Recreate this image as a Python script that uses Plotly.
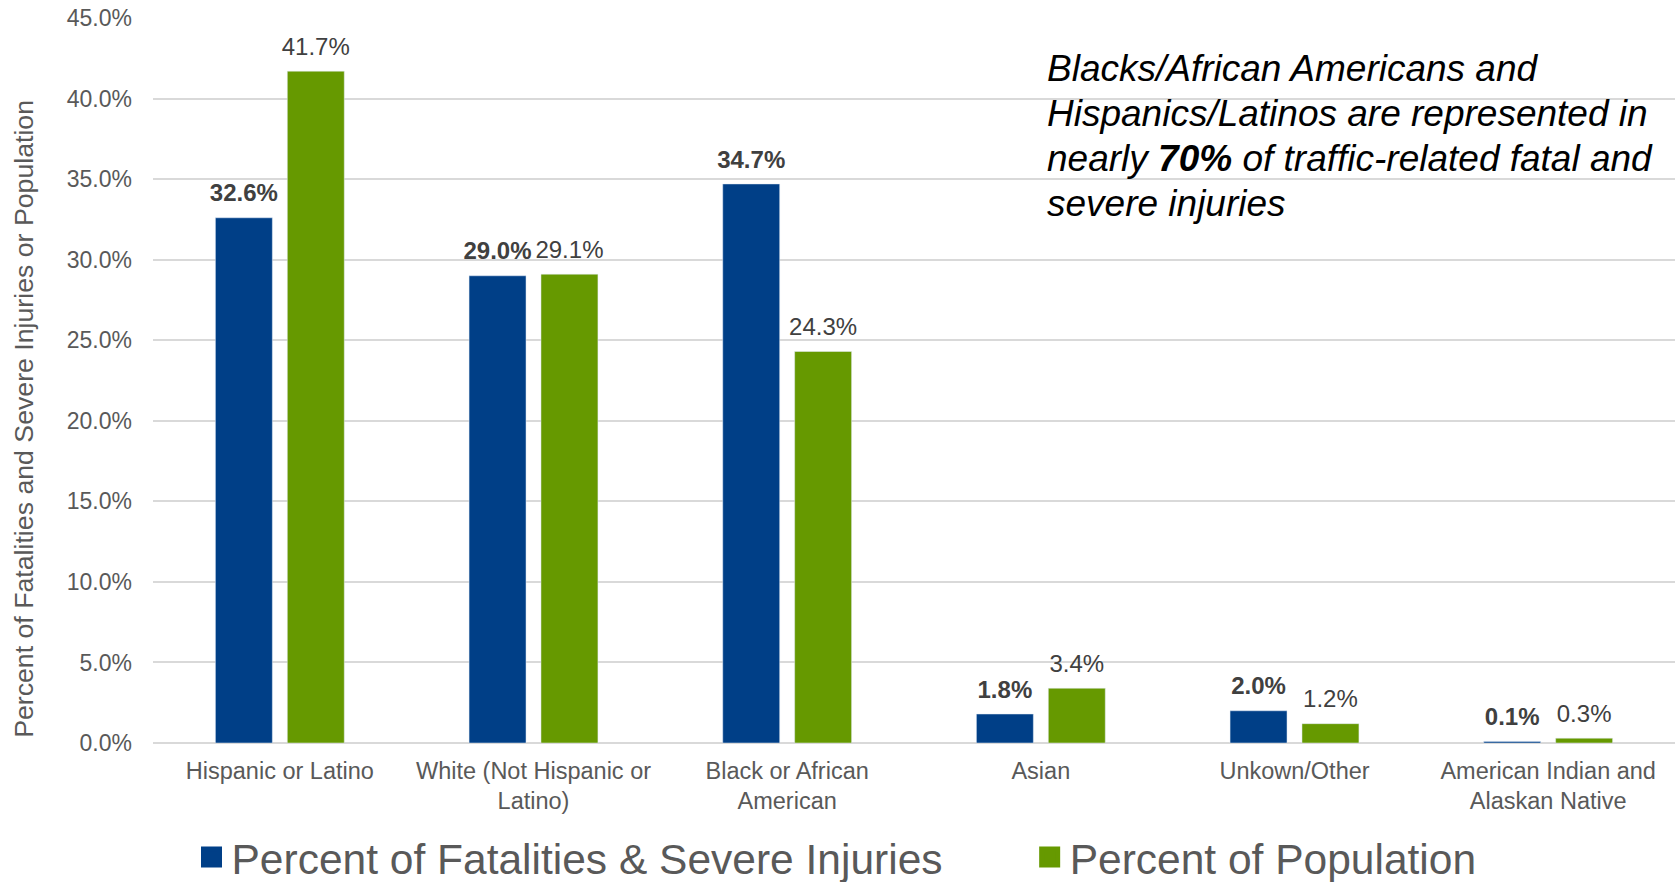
import plotly.graph_objects as go

categories = [
    "Hispanic or Latino",
    "White (Not Hispanic or<br>Latino)",
    "Black or African<br>American",
    "Asian",
    "Unkown/Other",
    "American Indian and<br>Alaskan Native",
]
fatal_injury_pct = [32.6, 29.0, 34.7, 1.8, 2.0, 0.1]
population_pct = [41.7, 29.1, 24.3, 3.4, 1.2, 0.3]
y_ticks = [0, 5, 10, 15, 20, 25, 30, 35, 40, 45]
series_names = ["Percent of Fatalities & Severe Injuries", "Percent of Population"]
note_lines = [
    "Blacks/African Americans and",
    "Hispanics/Latinos are represented in",
    "nearly <b>70%</b> of traffic-related fatal and",
    "severe injuries",
]

BLUE = "#003F87"
GREEN = "#669900"
FONT = "Arial, Liberation Sans, sans-serif"
BARGAP = 0.433

fig = go.Figure()
fig.add_trace(go.Bar(
    x=categories, y=fatal_injury_pct, name=series_names[0],
    marker=dict(color=BLUE), offsetgroup="a", hoverinfo="skip", showlegend=False,
))
fig.add_trace(go.Bar(
    x=categories, y=population_pct, name=series_names[1],
    marker=dict(color=GREEN), offsetgroup="b", hoverinfo="skip", showlegend=False,
))
# value labels, grouped the same way as the bars
fig.add_trace(go.Scatter(
    x=categories, y=fatal_injury_pct, mode="markers+text",
    text=[f"<b>{v:.1f}%</b>" for v in fatal_injury_pct], textposition="top center",
    textfont=dict(size=24, color="#404040", family=FONT),
    marker=dict(size=15, opacity=0), offsetgroup="a", showlegend=False, hoverinfo="skip",
    cliponaxis=False,
))
fig.add_trace(go.Scatter(
    x=categories, y=population_pct, mode="markers+text",
    text=[f"{v:.1f}%" for v in population_pct], textposition="top center",
    textfont=dict(size=24, color="#404040", family=FONT),
    marker=dict(size=15, opacity=0), offsetgroup="b", showlegend=False, hoverinfo="skip",
    cliponaxis=False,
))
# legend entries (square swatches)
for name, color, grp, leg in [(series_names[0], BLUE, "a", "legend"), (series_names[1], GREEN, "b", "legend2")]:
    fig.add_trace(go.Scatter(
        x=[None], y=[None], mode="markers", name=name, offsetgroup=grp, legend=leg,
        marker=dict(symbol="square", size=16, color=color, line=dict(color=color, width=5)),
        hoverinfo="skip", showlegend=True,
    ))

legend_common = dict(
    orientation="h", xanchor="left",
    yref="container", y=0.028, yanchor="middle",
    font=dict(size=42.5, color="#595959", family=FONT),
    itemwidth=30, bgcolor="rgba(0,0,0,0)", itemsizing="trace",
)

annotations = [
    dict(
        text="Percent of Fatalities and Severe Injuries or Population",
        xref="paper", yref="paper", x=-0.0848, y=0.447,
        xanchor="center", yanchor="middle", textangle=-90, showarrow=False,
        font=dict(size=26.7, color="#595959", family=FONT),
    ),
]
for i, line in enumerate(note_lines):
    annotations.append(dict(
        text=line, xref="paper", yref="paper", x=0.586, y=0.931 - i * 0.0621,
        xanchor="left", yanchor="middle", align="left", showarrow=False,
        font=dict(size=37, color="#000000", family=FONT, style="italic"),
    ))

fig.update_layout(
    width=1679, height=882,
    margin=dict(l=153, r=4, t=18, b=139, autoexpand=False),
    paper_bgcolor="white", plot_bgcolor="white",
    barmode="group", bargap=BARGAP, bargroupgap=0.208,
    scattermode="group", scattergap=BARGAP,
    font=dict(family=FONT, color="#595959"),
    showlegend=True,
    legend=dict(x=0.0253, **legend_common),
    legend2=dict(x=0.576, **legend_common),
    xaxis=dict(
        type="category", showgrid=False, showline=False, zeroline=False,
        tickfont=dict(size=23.5, color="#595959", family=FONT),
        ticks="", ticklabelstandoff=11, automargin=False,
    ),
    yaxis=dict(
        range=[0, 45], tickvals=y_ticks, ticktext=[f"{v:.1f}%" for v in y_ticks],
        showgrid=True, gridcolor="#d9d9d9", gridwidth=1.5,
        zeroline=True, zerolinecolor="#d9d9d9", zerolinewidth=2,
        showline=False, ticks="", ticklabelstandoff=20, automargin=False,
        tickfont=dict(size=23, color="#595959", family=FONT),
    ),
    annotations=annotations,
)

fig.write_html(
    "out.html",
    config={"displayModeBar": False},
    post_script="document.body.style.margin='0';document.body.style.overflow='hidden';",
)
